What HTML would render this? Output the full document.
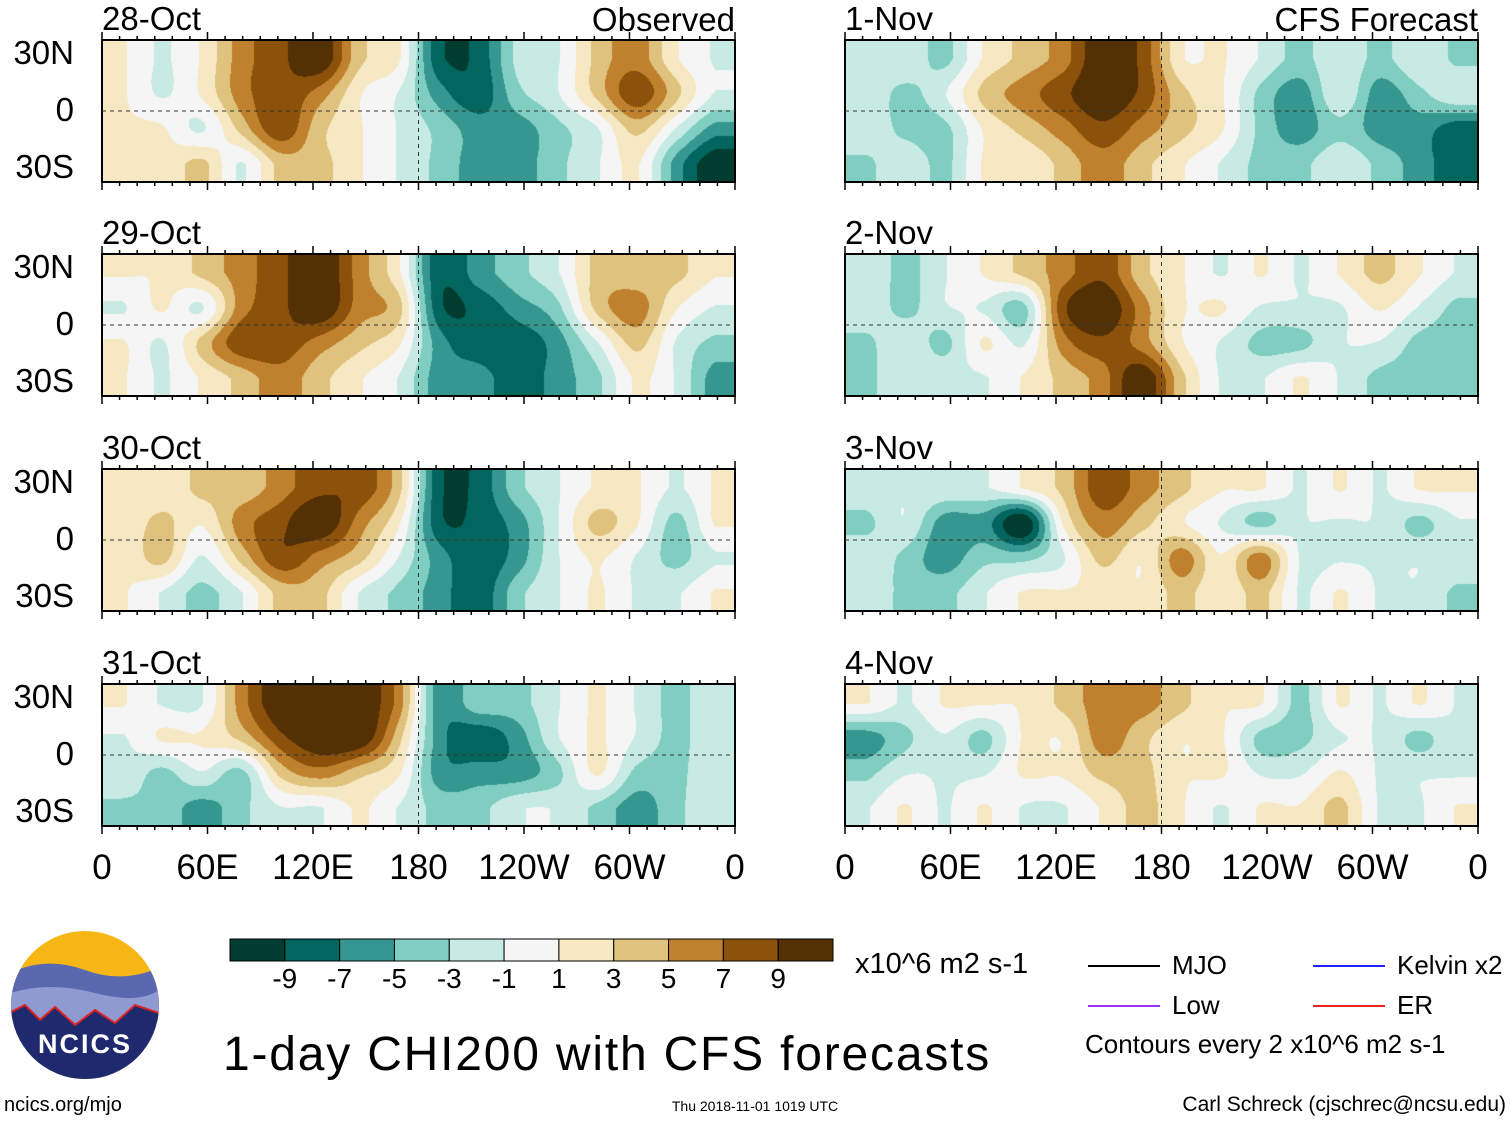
<!DOCTYPE html>
<html><head><meta charset="utf-8"><style>
body{margin:0;background:#fff;width:1510px;height:1121px;position:relative;overflow:hidden;font-family:"Liberation Sans",sans-serif;}
.t{position:absolute;white-space:nowrap;color:#000;line-height:1;}
canvas{position:absolute;}
</style></head><body>
<svg id="frame" width="1510" height="1121" style="position:absolute;left:0;top:0"></svg>
<div id="labels"></div>
<script>
const panelTitles=["28-Oct","29-Oct","30-Oct","31-Oct","1-Nov","2-Nov","3-Nov","4-Nov"];
const yTicks=["30N","0","30S"];
const xTicks=["0","60E","120E","180","120W","60W","0"];
const cbLabels=["-9","-7","-5","-3","-1","1","3","5","7","9"];
const cbColors=["#003c30","#01665e","#35978f","#80cdc1","#c7eae5","#f5f5f5","#f6e8c3","#dfc27d","#bf812d","#8c510a","#543005"];
const g1=[[1,-1,1,5,7,9,3,1,-7,-7,-2,-1,3,5,1,-1],[1,-1,1,5,7,5,1,-1,-5,-7,-3,-1,3,7,3,-1],[1,1,-1,3,7,3,1,-1,-3,-5,-5,-3,-1,3,-1,-5],[1,1,3,-1,3,3,1,-1,-3,-5,-5,-3,-1,1,-5,-9]];
const g2=[[1,1,3,5,7,9,5,1,-7,-5,-3,-1,3,3,3,1],[-1,1,-1,5,7,9,5,3,-7,-7,-5,-3,3,5,1,-1],[1,-1,3,7,7,5,3,1,-5,-7,-7,-5,-1,3,-1,-3],[1,-1,1,3,5,3,1,-1,-5,-5,-7,-5,-3,1,-1,-5]];
const g3=[[1,1,3,3,5,7,7,3,-7,-7,-3,-1,1,1,-1,1],[1,3,1,5,7,9,5,1,-7,-7,-5,-1,3,1,-3,1],[1,3,-1,3,7,5,3,-1,-5,-7,-5,-1,1,-1,-3,-1],[1,-1,-3,-1,3,3,-1,-3,-5,-7,-3,-1,1,-1,-1,1]];
const g4=[[1,-1,-1,5,9,9,9,5,-5,-3,-3,-1,1,-1,-3,-1],[-1,1,1,3,7,9,9,3,-5,-7,-5,-1,1,-1,-3,-1],[-1,-3,-1,-3,3,5,3,1,-5,-5,-5,-3,1,-3,-3,-1],[-3,-3,-5,-3,-1,-1,1,-1,-3,-3,-1,-1,-3,-5,-3,-1]];
const g5=[[-1,-1,-3,1,3,5,9,7,1,1,-1,-3,-1,-3,-1,-3],[-1,-3,-1,3,5,7,9,7,3,1,-3,-5,-1,-5,-3,-1],[-1,-3,-3,1,3,5,7,5,3,1,-3,-5,-3,-5,-5,-7],[-3,-1,-3,1,1,3,5,3,1,-1,-3,-3,-1,-3,-5,-7]];
const g6=[[-1,-3,-1,1,3,5,7,3,1,-1,1,-1,1,3,1,-1],[-1,-3,-1,-1,-3,7,9,5,1,1,-1,-1,-1,1,-1,-3],[-3,-1,-3,1,-1,5,7,5,1,-1,-3,-3,-1,-1,-3,-3],[-3,-1,-1,-1,1,3,5,9,3,-1,-1,1,-1,-3,-3,-3]];
const g7=[[-1,-1,-1,-1,1,3,7,5,3,1,1,-1,1,-1,1,1],[-3,-1,-5,-5,-9,1,5,3,1,-1,-3,-1,-1,-1,-3,-1],[-1,-3,-5,-3,-3,-1,3,1,5,1,5,-1,-1,-1,-1,-1],[-1,-3,-3,-1,1,1,1,1,3,1,3,-1,1,-1,-1,-3]];
const g8=[[1,-1,1,1,1,3,5,5,3,1,1,-3,1,-1,1,-1],[-5,-3,-1,-3,1,1,5,3,1,1,-3,-3,-1,-1,-3,-1],[-3,-1,-1,-1,1,1,3,3,1,1,-1,-1,1,-1,-1,-1],[-1,1,-1,1,-1,-1,1,3,1,-1,1,1,3,-1,-1,1]];
const grids=[g1,g2,g3,g4,g5,g6,g7,g8];

const PX=[102,845],PY=[40,254,469,684],PW=633,PH=142;
const NS="http://www.w3.org/2000/svg";
const svg=document.getElementById('frame');
const lab=document.getElementById('labels');
function hex(c){return [parseInt(c.slice(1,3),16),parseInt(c.slice(3,5),16),parseInt(c.slice(5,7),16)];}
const rgb=cbColors.map(hex);
function txt(s,x,y,size,align,name){const d=document.createElement('div');d.className='t';d.textContent=s;d.style.fontSize=size+'px';d.style.top=y+'px';
 if(align==='r'){d.style.right=(1510-x)+'px';}else if(align==='c'){d.style.left=x+'px';d.style.transform='translateX(-50%)';}else d.style.left=x+'px';
 
 
 lab.appendChild(d);return d;}
function cr(p0,p1,p2,p3,t){return 0.5*((2*p1)+(-p0+p2)*t+(2*p0-5*p1+4*p2-p3)*t*t+(-p0+3*p1-3*p2+p3)*t*t*t);}
function sample(g,fx,fy){const R=g.length,C=g[0].length;let x=fx*C-0.5,y=fy*R-0.5;
 x=Math.max(0,Math.min(C-1.0001,x));y=Math.max(0,Math.min(R-1.0001,y));
 const xi=Math.floor(x),yi=Math.floor(y),tx=x-xi,ty=y-yi;
 const gv=(r,c)=>g[Math.max(0,Math.min(R-1,r))][Math.max(0,Math.min(C-1,c))];
 const rows=[];for(let j=-1;j<=2;j++)rows.push(cr(gv(yi+j,xi-1),gv(yi+j,xi),gv(yi+j,xi+1),gv(yi+j,xi+2),tx));
 return cr(rows[0],rows[1],rows[2],rows[3],ty);}
grids.forEach((g,i)=>{
 const col=Math.floor(i/4),row=i%4,x0=PX[col],y0=PY[row];
 const cv=document.createElement('canvas');cv.width=PW;cv.height=PH;cv.style.left=x0+'px';cv.style.top=y0+'px';
 
 
 document.body.insertBefore(cv,svg);
 const ctx=cv.getContext('2d');const im=ctx.createImageData(PW,PH);
 for(let y=0;y<PH;y++)for(let x=0;x<PW;x++){const v=sample(g,x/PW,y/PH)*1.2+0.013;let k=Math.floor((v+11)/2);k=Math.max(0,Math.min(10,k));
  const p=(y*PW+x)*4;im.data[p]=rgb[k][0];im.data[p+1]=rgb[k][1];im.data[p+2]=rgb[k][2];im.data[p+3]=255;}
 ctx.putImageData(im,0,0);
 const r=document.createElementNS(NS,'rect');r.setAttribute('x',x0);r.setAttribute('y',y0);r.setAttribute('width',PW);r.setAttribute('height',PH);r.setAttribute('fill','none');r.setAttribute('stroke','#000');r.setAttribute('stroke-width','2');
 
 
 svg.appendChild(r);
 const eq=document.createElementNS(NS,'line');eq.setAttribute('x1',x0);eq.setAttribute('x2',x0+PW);eq.setAttribute('y1',y0+PH*0.5);eq.setAttribute('y2',y0+PH*0.5);eq.setAttribute('stroke','#333');eq.setAttribute('stroke-dasharray','4,4');
 
 
 svg.appendChild(eq);
 const dl=document.createElementNS(NS,'line');dl.setAttribute('x1',x0+PW/2);dl.setAttribute('x2',x0+PW/2);dl.setAttribute('y1',y0);dl.setAttribute('y2',y0+PH);dl.setAttribute('stroke','#333');dl.setAttribute('stroke-dasharray','4,4');
 
 
 svg.appendChild(dl);
 for(let k=0;k<=36;k++){const tx=x0+PW*k/36,len=k%6===0?8:4;
  [[y0,y0-len],[y0+PH,y0+PH+len]].forEach(p=>{const l=document.createElementNS(NS,'line');l.setAttribute('x1',tx);l.setAttribute('x2',tx);l.setAttribute('y1',p[0]);l.setAttribute('y2',p[1]);l.setAttribute('stroke','#000');l.setAttribute('stroke-width','1.5');
  
  
  svg.appendChild(l);});}
 txt(panelTitles[i],x0,y0-38,33,'l','panel-title');
 if(col===0) yTicks.forEach((t,j)=>txt(t,74,y0+PH*(j*60+15)/150-18,33,'r','y-tick-label'));
});
txt("Observed",735,3,33,'r','observed-label');
txt("CFS Forecast",1478,3,33,'r','forecast-label');
PX.forEach(x0=>xTicks.forEach((t,j)=>txt(t,x0+PW*j/6,850,35,'c','x-tick-label')));
const cbx=230,cby=939,cbw=603,cbh=22;
cbColors.forEach((c,k)=>{const r=document.createElementNS(NS,'rect');r.setAttribute('x',cbx+cbw*k/11);r.setAttribute('y',cby);r.setAttribute('width',cbw/11);r.setAttribute('height',cbh);r.setAttribute('fill',c);r.setAttribute('stroke','#000');r.setAttribute('stroke-width','1');
 
 
 svg.appendChild(r);});
cbLabels.forEach((t,k)=>txt(t,cbx+cbw*(k+1)/11,965,28,'c','colorbar-label'));
txt("x10^6 m2 s-1",855,950,29,'l','units-label');
const leg=[["MJO","#000",1088,966],["Low","#9933ff",1088,1006],["Kelvin x2","#2222ff",1313,966],["ER","#ee2222",1313,1006]];
leg.forEach(L=>{const l=document.createElementNS(NS,'line');l.setAttribute('x1',L[2]);l.setAttribute('x2',L[2]+72);l.setAttribute('y1',L[3]);l.setAttribute('y2',L[3]);l.setAttribute('stroke',L[1]);l.setAttribute('stroke-width','2');
 
 
 svg.appendChild(l);txt(L[0],L[2]+84,L[3]-14,26,'l','legend-entry');});
txt("Contours every 2 x10^6 m2 s-1",1085,1031,26,'l','contour-note');
txt("1-day CHI200 with CFS forecasts",223,1031,48,'l','chart-title').style.letterSpacing='1.8px';
txt("ncics.org/mjo",4,1095,20,'l','source-url');
txt("Thu 2018-11-01 1019 UTC",755,1099,14,'c','timestamp');
txt("Carl Schreck (cjschrec@ncsu.edu)",1506,1094,21,'r','author-credit');
</script>
<svg width="160" height="160" style="position:absolute;top:925px;left:5px" viewBox="0 0 160 160">
<defs><clipPath id="cc"><circle cx="80" cy="80" r="74"/></clipPath></defs>
<g clip-path="url(#cc)">
<rect x="0" y="0" width="160" height="160" fill="#f6b716"/>
<path d="M0,50 Q40,30 80,45 T160,40 L160,160 L0,160Z" fill="#5a68b0"/>
<path d="M0,70 Q40,55 90,68 T160,60 L160,160 L0,160Z" fill="#8f9ad0"/>
<path d="M0,90 L20,80 L35,95 L50,82 L70,100 L90,85 L110,98 L130,80 L160,90 L160,160 L0,160Z" fill="#1f2a6e" stroke="#d22" stroke-width="2"/>
</g>
<text x="80" y="128" text-anchor="middle" fill="#fff" font-size="27" font-weight="bold" font-family="Liberation Sans,sans-serif" letter-spacing="2">NCICS</text>
</svg>
</body></html>
